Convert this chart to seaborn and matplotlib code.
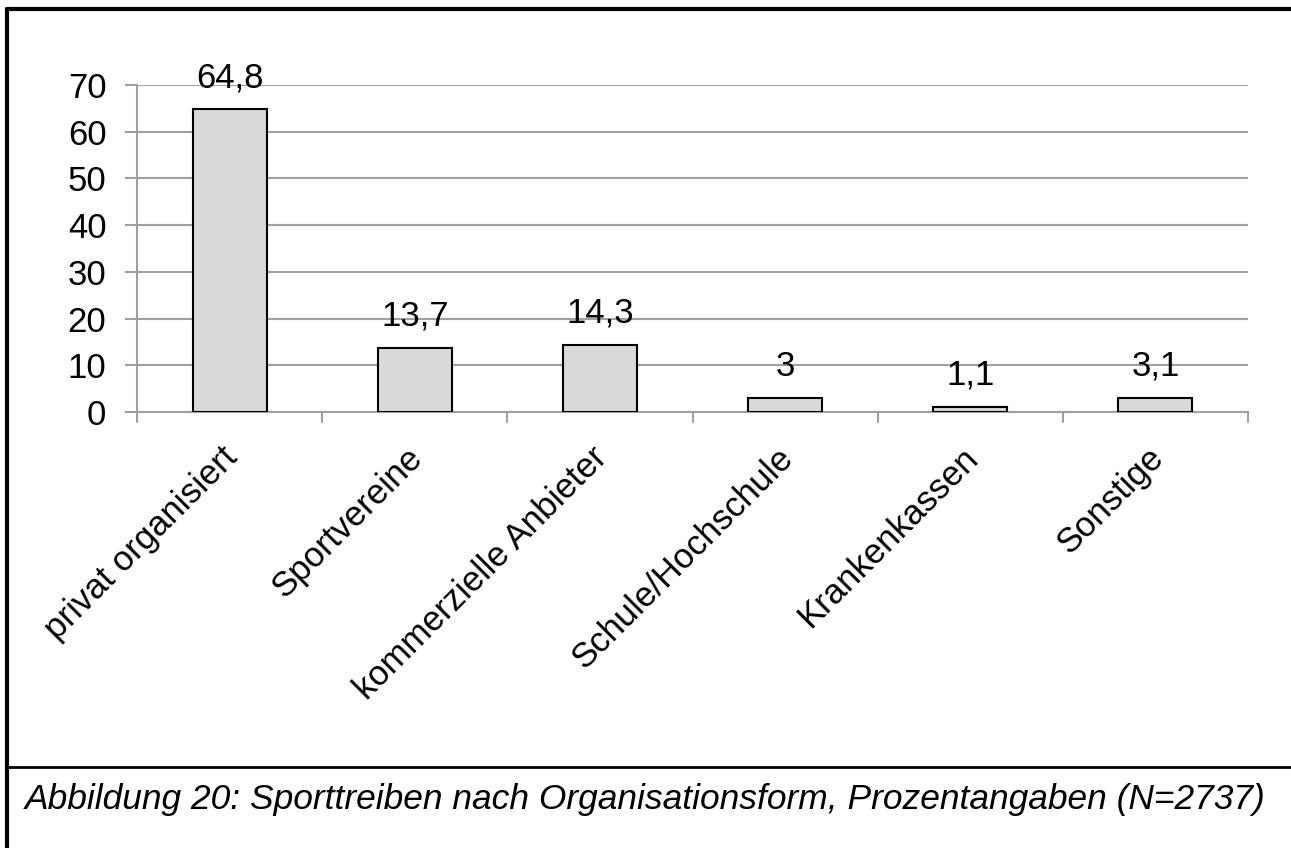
import matplotlib
matplotlib.use("Agg")
import matplotlib.pyplot as plt
import matplotlib.transforms as mtransforms
import seaborn as sns
import pandas as pd
from matplotlib.lines import Line2D

# data
categories = ["privat organisiert", "Sportvereine", "kommerzielle Anbieter",
              "Schule/Hochschule", "Krankenkassen", "Sonstige"]
values = [64.8, 13.7, 14.3, 3, 1.1, 3.1]
value_labels = ["64,8", "13,7", "14,3", "3", "1,1", "3,1"]
yticks = [0, 10, 20, 30, 40, 50, 60, 70]
caption = "Abbildung 20: Sporttreiben nach Organisationsform, Prozentangaben (N=2737)"

df = pd.DataFrame({"Kategorie": categories, "Wert": values})

sns.set_style("white")
plt.rcParams["font.family"] = ["Liberation Sans", "DejaVu Sans"]
plt.rcParams["text.color"] = "black"
plt.rcParams["xtick.color"] = "black"
plt.rcParams["ytick.color"] = "black"

fig = plt.figure(figsize=(12.91, 8.48), dpi=100)
ax = fig.add_axes([137 / 1291, 1 - 412 / 848, (1248 - 137) / 1291, (412 - 85) / 848])

sns.barplot(data=df, x="Kategorie", y="Wert", color="#d9d9d9", edgecolor="black",
            linewidth=1.5, width=0.4, saturation=1, ax=ax, zorder=3)

ax.set_ylim(0, 70)
ax.set_xlim(-0.5, len(categories) - 0.5)
ax.set_yticks(yticks)
ax.set_yticklabels([str(t) for t in yticks], fontsize=25, color="black")
ax.yaxis.grid(True, color="#a0a0a0", linewidth=1.5, zorder=0)
ax.set_axisbelow(True)
ax.tick_params(axis="y", length=9, width=1.5, color="#a0a0a0", labelcolor="black",
               pad=13, left=True)
ax.set_xlabel("")
ax.set_ylabel("")

# category labels, rotated
ax.set_xticks(range(len(categories)))
ax.set_xticklabels(categories, fontsize=25, rotation=45, ha="right", va="top",
                   rotation_mode="anchor", color="black")
ax.tick_params(axis="x", length=0, pad=21)
shift = mtransforms.ScaledTranslation(-9 / 100, 0, fig.dpi_scale_trans)
for lab in ax.get_xticklabels():
    lab.set_transform(lab.get_transform() + shift)

# boundary ticks on the x axis
for b in [i - 0.5 for i in range(len(categories) + 1)]:
    ax.plot([b, b], [0, -0.03], transform=ax.get_xaxis_transform(),
            color="#a0a0a0", linewidth=1.5, clip_on=False)

for s in ["top", "right"]:
    ax.spines[s].set_visible(False)
ax.spines["left"].set_color("#a0a0a0")
ax.spines["left"].set_linewidth(1.5)
ax.spines["bottom"].set_color("#a0a0a0")
ax.spines["bottom"].set_linewidth(1.5)

for i, (v, lab) in enumerate(zip(values, value_labels)):
    ax.annotate(lab, (i, v), xytext=(0, 11), textcoords="offset points",
                ha="center", va="bottom", fontsize=25, color="black")

# frame and caption
fig.add_artist(Line2D([7 / 1291, 7 / 1291], [0, 1 - 9 / 848], transform=fig.transFigure,
                      color="black", linewidth=3))
fig.add_artist(Line2D([7 / 1291, 1], [1 - 9 / 848, 1 - 9 / 848], transform=fig.transFigure,
                      color="black", linewidth=3))
fig.add_artist(Line2D([7 / 1291, 1], [1 - 767 / 848, 1 - 767 / 848], transform=fig.transFigure,
                      color="black", linewidth=2))
fig.text(25 / 1291, 1 - 800 / 848, caption, fontsize=25.5, style="italic",
         ha="left", va="center", color="black")

fig.savefig("out.png", dpi=100, facecolor="white")
